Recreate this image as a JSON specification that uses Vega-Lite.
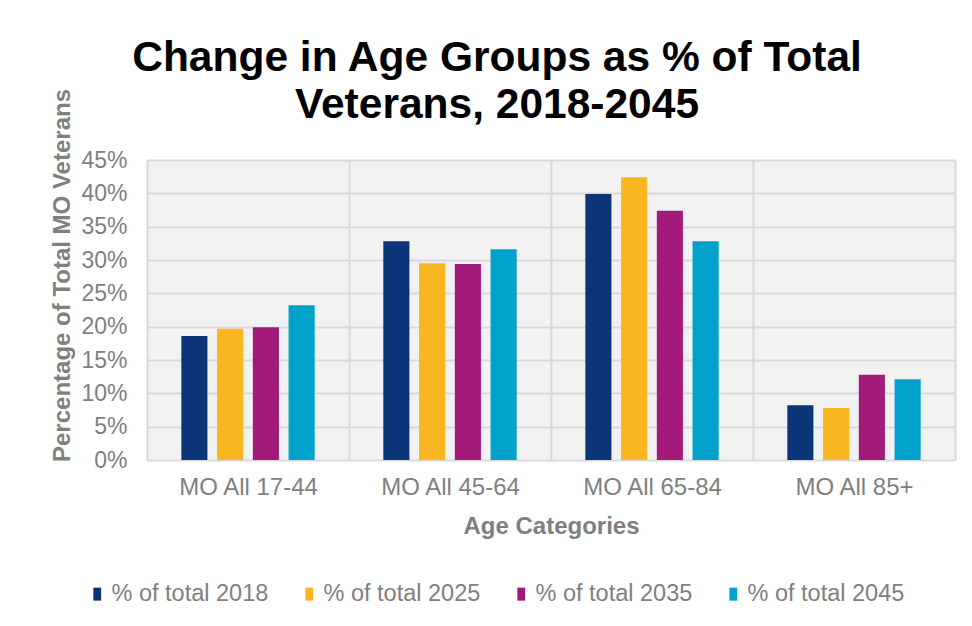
{
  "$schema": "https://vega.github.io/schema/vega-lite/v6.json",
  "width": 808,
  "height": 300,
  "autosize": {"type": "none"},
  "padding": {"left": 147, "top": 160, "right": 17, "bottom": 166},
  "background": "white",
  "title": {
    "text": ["Change in Age Groups as % of Total", "Veterans, 2018-2045"],
    "font": "Liberation Sans",
    "fontSize": 42.5,
    "fontWeight": "bold",
    "color": "#000000",
    "lineHeight": 47,
    "anchor": "middle",
    "dx": -54,
    "dy": 78,
    "offset": 40
  },
  "data": {
    "values": [
      {"category": "MO All 17-44", "series": "% of total 2018", "value": 0.186},
      {"category": "MO All 17-44", "series": "% of total 2025", "value": 0.197},
      {"category": "MO All 17-44", "series": "% of total 2035", "value": 0.199},
      {"category": "MO All 17-44", "series": "% of total 2045", "value": 0.232},
      {"category": "MO All 45-64", "series": "% of total 2018", "value": 0.328},
      {"category": "MO All 45-64", "series": "% of total 2025", "value": 0.295},
      {"category": "MO All 45-64", "series": "% of total 2035", "value": 0.294},
      {"category": "MO All 45-64", "series": "% of total 2045", "value": 0.316},
      {"category": "MO All 65-84", "series": "% of total 2018", "value": 0.399},
      {"category": "MO All 65-84", "series": "% of total 2025", "value": 0.424},
      {"category": "MO All 65-84", "series": "% of total 2035", "value": 0.374},
      {"category": "MO All 65-84", "series": "% of total 2045", "value": 0.328},
      {"category": "MO All 85+", "series": "% of total 2018", "value": 0.082},
      {"category": "MO All 85+", "series": "% of total 2025", "value": 0.078},
      {"category": "MO All 85+", "series": "% of total 2035", "value": 0.128},
      {"category": "MO All 85+", "series": "% of total 2045", "value": 0.121}
    ]
  },
  "mark": {"type": "bar"},
  "encoding": {
    "x": {
      "field": "category",
      "type": "nominal",
      "sort": null,
      "scale": {"paddingInner": 0, "paddingOuter": 0},
      "axis": {
        "title": "Age Categories",
        "titleFont": "Liberation Sans",
        "titleFontSize": 24,
        "titleFontWeight": "bold",
        "titleColor": "#7f7f7f",
        "titlePadding": 15,
        "labelFont": "Liberation Sans",
        "labelFontSize": 24,
        "labelColor": "#7f7f7f",
        "labelAngle": 0,
        "labelPadding": 15,
        "ticks": false,
        "domain": false,
        "grid": true,
        "tickBand": "extent",
        "gridColor": "#d9d9d9",
        "gridWidth": 2
      }
    },
    "xOffset": {
      "field": "series",
      "type": "nominal",
      "scale": {"paddingInner": 0.27, "paddingOuter": 0.96}
    },
    "y": {
      "field": "value",
      "type": "quantitative",
      "scale": {"domain": [0, 0.45], "nice": false},
      "axis": {
        "title": "Percentage of Total MO Veterans",
        "titleFont": "Liberation Sans",
        "titleFontSize": 24,
        "titleFontWeight": "bold",
        "titleColor": "#7f7f7f",
        "titleAngle": -90,
        "titleX": -85,
        "titleY": 115,
        "titleAlign": "center",
        "titleBaseline": "middle",
        "values": [0, 0.05, 0.1, 0.15, 0.2, 0.25, 0.3, 0.35, 0.4, 0.45],
        "format": ".0%",
        "labelFont": "Liberation Sans",
        "labelFontSize": 23,
        "labelColor": "#7f7f7f",
        "labelPadding": 20,
        "ticks": false,
        "domain": false,
        "grid": true,
        "gridColor": "#d9d9d9",
        "gridWidth": 2
      }
    },
    "color": {
      "field": "series",
      "type": "nominal",
      "scale": {
        "domain": ["% of total 2018", "% of total 2025", "% of total 2035", "% of total 2045"],
        "range": ["#0c3577", "#f8b620", "#a21b7b", "#00a2cb"]
      },
      "legend": {
        "title": null,
        "orient": "none",
        "direction": "horizontal",
        "columns": 4,
        "legendX": -61.5,
        "legendY": 422,
        "padding": 0,
        "symbolType": "M-0.6,-1H0.6V1H-0.6Z",
        "symbolSize": 169,
        "symbolStrokeWidth": 0,
        "symbolOpacity": 1,
        "labelFont": "Liberation Sans",
        "labelFontSize": 23.5,
        "labelColor": "#7f7f7f",
        "labelOffset": 2.5,
        "columnPadding": 29
      }
    }
  },
  "config": {
    "view": {"fill": "#f2f2f2", "stroke": null}
  }
}
